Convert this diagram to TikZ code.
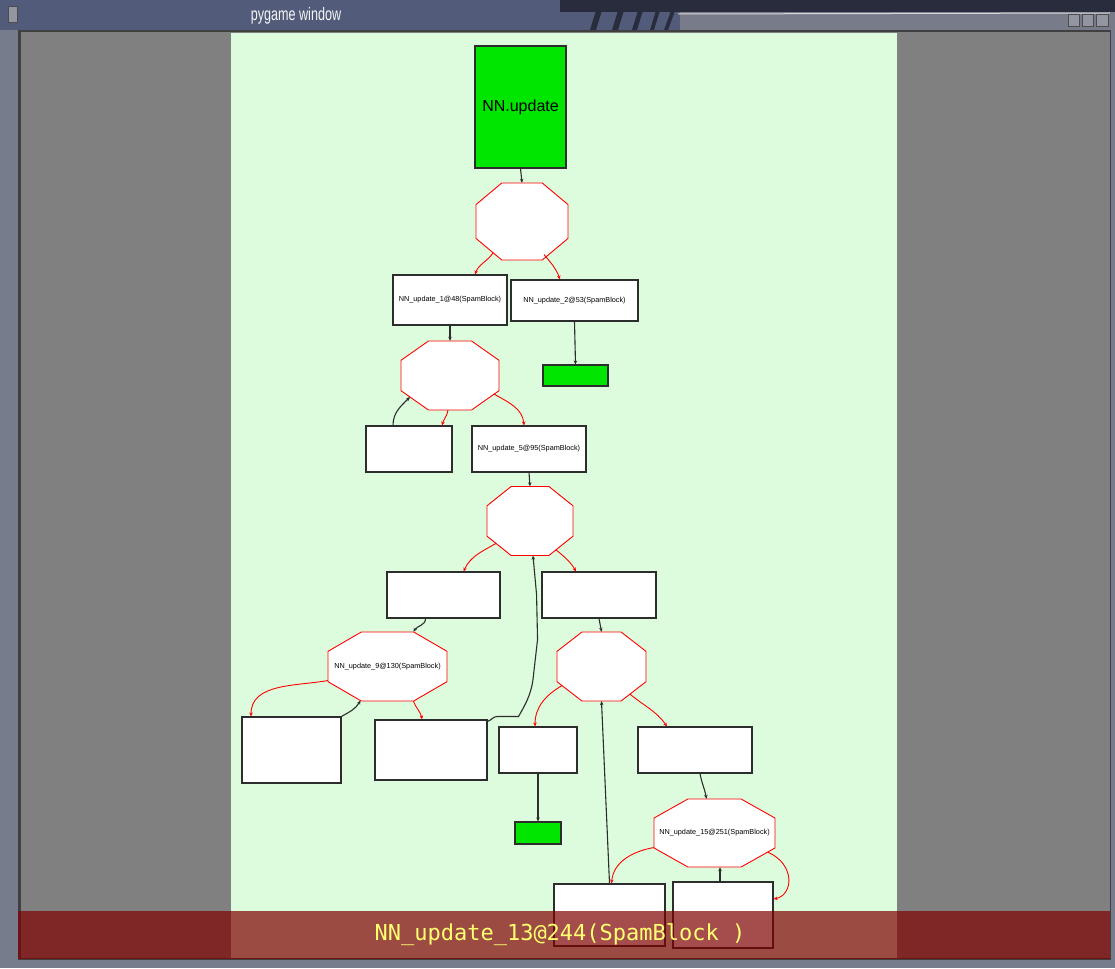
\documentclass[tikz,border=0pt]{standalone}
\usepackage{fontspec}
\setmainfont{Liberation Sans}
\newfontfamily\barfont{DejaVu Sans Mono}
\usetikzlibrary{calc,arrows.meta}
\definecolor{panel}{RGB}{221,252,221}
\definecolor{nodegreen}{RGB}{0,230,0}
\definecolor{edgegray}{RGB}{45,45,45}
\definecolor{frame}{RGB}{118,124,140}
\definecolor{titlebar}{RGB}{82,92,122}
\definecolor{titleright}{RGB}{120,124,138}
\definecolor{titledark}{RGB}{40,44,60}
\definecolor{bartext}{RGB}{255,255,112}
\definecolor{barred}{RGB}{127,0,0}
\definecolor{areagray}{RGB}{128,128,128}
\tikzset{
  box/.style={draw=edgegray, line width=1.1pt, fill=white, inner sep=0pt, font=\fontsize{7.3}{8}\selectfont},
  gbox/.style={box, fill=nodegreen},
  octtext/.style={draw=none, inner sep=0pt, font=\fontsize{7.3}{8}\selectfont},
  octline/.style={draw=red, fill=white, line width=0.9pt},
  blk/.style={draw=edgegray, line width=1.1pt, -{Stealth[length=4pt,width=3.5pt]}},
  redl/.style={draw=red, line width=0.9pt, -{Stealth[length=4pt,width=3.5pt]}},
  winbtn/.style={draw=black!70, fill=titleright!80!white, line width=0.6pt},
}
\newcommand{\octnode}[6]{%
  \draw[octline] ({#2-0.22*#4},{#3-0.5*#5}) -- ({#2+0.22*#4},{#3-0.5*#5}) -- ({#2+0.5*#4},{#3-0.22*#5}) -- ({#2+0.5*#4},{#3+0.22*#5}) -- ({#2+0.22*#4},{#3+0.5*#5}) -- ({#2-0.22*#4},{#3+0.5*#5}) -- ({#2-0.5*#4},{#3+0.22*#5}) -- ({#2-0.5*#4},{#3-0.22*#5}) -- cycle;
  \node[octtext, minimum width=#4pt, minimum height=#5pt] (#1) at (#2,#3) {#6};}
\begin{document}
\begin{tikzpicture}[x=1pt,y=-1pt]
\useasboundingbox (0,0) rectangle (1115,968);
% window chrome
\fill[frame] (0,0) rectangle (1115,968);
\fill[titlebar] (0,0) rectangle (1115,30);
\fill[titledark] (560,0) rectangle (1115,12);
\fill[titleright] (680,12) rectangle (1115,30);
\fill[titledark] (590,30) -- (598,4) -- (604,4) -- (596,30) -- cycle;
\fill[titledark] (612,30) -- (620,4) -- (626,4) -- (618,30) -- cycle;
\fill[titledark] (632,30) -- (640,4) -- (645,4) -- (637,30) -- cycle;
\fill[titledark] (650,30) -- (658,4) -- (662,4) -- (654,30) -- cycle;
\fill[titledark] (664,30) -- (672,8) -- (676,8) -- (668,30) -- cycle;
\draw[white!70!gray, line width=1pt] (678,14) -- (1110,13);
\draw[winbtn] (8,6) rectangle (17,22);
\draw[winbtn] (1068,14) rectangle (1079,26);
\draw[winbtn] (1082,14) rectangle (1093,26);
\draw[winbtn] (1096,14) rectangle (1108,26);
\node[font=\fontsize{18}{18}\selectfont, text=white!92!gray, xscale=0.7] (title) at (296,16) {pygame window};
\fill[black!75] (18,30) rectangle (1111,960);
\fill[areagray] (21,32) rectangle (1110,958);
\fill[panel] (231,33) rectangle (897,958);
% nodes
\node[gbox, minimum width=91pt, minimum height=122pt, font=\fontsize{16}{18}\selectfont] (NN) at (520.5,107) {NN.update};
\octnode{O1}{522}{221.5}{92}{77}{}
\node[box, minimum width=114pt, minimum height=50pt] (B1) at (450,300) {NN\_update\_1@48(SpamBlock)};
\node[box, minimum width=127pt, minimum height=41pt] (B2) at (574.5,300.5) {NN\_update\_2@53(SpamBlock)};
\node[gbox, minimum width=65pt, minimum height=21pt] (G1) at (575.5,375.5) {};
\octnode{O2}{450}{375.5}{98}{69}{}
\node[box, minimum width=86pt, minimum height=46pt] (B3) at (409,449) {};
\node[box, minimum width=114pt, minimum height=46pt] (B4) at (529,449) {NN\_update\_5@95(SpamBlock)};
\octnode{O3}{530}{521}{86}{69}{}
\node[box, minimum width=113pt, minimum height=46pt] (B5) at (443.5,595) {};
\node[box, minimum width=114pt, minimum height=46pt] (B6) at (599,595) {};
\octnode{O4}{387.5}{666.5}{119}{69}{NN\_update\_9@130(SpamBlock)}
\octnode{O5}{601.5}{666.5}{89}{69}{}
\node[box, minimum width=99pt, minimum height=66pt] (B7) at (291.5,750) {};
\node[box, minimum width=112pt, minimum height=60pt] (B8) at (431,750) {};
\node[box, minimum width=78pt, minimum height=46pt] (B9) at (538,750) {};
\node[box, minimum width=114pt, minimum height=46pt] (B10) at (695,750) {};
\node[gbox, minimum width=46pt, minimum height=22pt] (G2) at (538,833) {};
\octnode{O6}{714.5}{833}{121}{68}{NN\_update\_15@251(SpamBlock)}
\node[box, minimum width=111pt, minimum height=62pt] (B11) at (609.5,915) {};
\node[box, minimum width=100pt, minimum height=66pt] (B12) at (723,915) {};
% connectors
\draw[blk] (NN.south) -- (O1.north);
\draw[redl] ($(O1)+(-29,31.5)$) to[out=-125,in=70] ($(B1.north)+(25,0)$);
\draw[redl] ($(O1)+(22,33)$) to[out=-50,in=110] ($(B2.north)+(-14.5,0)$);
\draw[blk] (B1.south) -- (O2.north);
\draw[blk] (B2.south) -- (G1.north);
\draw[blk] ($(B3.north)+(-16,0)$) to[out=90,in=-135] ($(O2)+(-40,21.5)$);
\draw[redl] ($(O2.south)+(-2,0)$) to[out=-100,in=75] ($(B3.north)+(33,0)$);
\draw[redl] ($(O2)+(44,18.5)$) to[out=-30,in=95] ($(B4.north)+(-5,0)$);
\draw[blk] (B4.south) -- (O3.north);
\draw[redl] ($(O3)+(-34,22.4)$) to[out=-150,in=65] ($(B5.north)+(20,0)$);
\draw[redl] ($(O3)+(26,28.8)$) to[out=-40,in=120] ($(B6.north)+(-23,0)$);
\draw[blk] ($(B5.south)+(-18,0)$) to[out=-90,in=60] ($(O4.north)+(26,0)$);
\draw[redl] ($(O4)+(-59.5,14)$) to[out=-170,in=90] ($(B7.north)+(-40.5,0)$);
\draw[blk] (B7.north east) to[out=30,in=-120] ($(O4)+(-27,34)$);
\draw[redl] ($(O4.south)+(26,0)$) to[out=-70,in=100] ($(B8.north)+(-9,0)$);
\draw[blk] ($(B8.north east)+(0,2)$) to[out=20,in=180] ++(10,-5) -- ++(21,0) to[out=60,in=-95] ++(15,-42) -- ++(4,-35) -- ++(-1,-45) -- ($(O3.south)+(3,0)$);
\draw[blk] (B6.south) -- (O5.north);
\draw[redl] ($(O5)+(-39.5,19.1)$) to[out=-150,in=90] ($(B9.north)+(-3,0)$);
\draw[redl] ($(O5)+(28.5,27.6)$) to[out=-40,in=125] ($(B10.north)+(-28,0)$);
\draw[blk] (B9.south) -- (G2.north);
\draw[blk] ($(B10.south)+(5,0)$) to[out=-80,in=100] ($(O6.north)+(-8,0)$);
\draw[blk] (B11.north) -- (O5.south);
\draw[redl] ($(O6)+(-60.5,14.5)$) to[out=-170,in=85] ($(B11.north)+(2,0)$);
\draw[blk] ($(B12.north)+(-3,0)$) -- ($(O6.south)+(5.5,0)$);
\draw[redl] ($(O6)+(53,19)$) .. controls ($(O6)+(81,31)$) and ($(B12.east)+(20,-20)$) .. ($(B12.east)+(0,-16)$);
% status bar
\fill[barred, opacity=0.7] (18,911) rectangle (1110,959);
\node[font=\barfont\fontsize{22}{24}\selectfont, text=bartext] (status) at (560,935) {NN\_update\_13@244(SpamBlock )};
\end{tikzpicture}
\end{document}
